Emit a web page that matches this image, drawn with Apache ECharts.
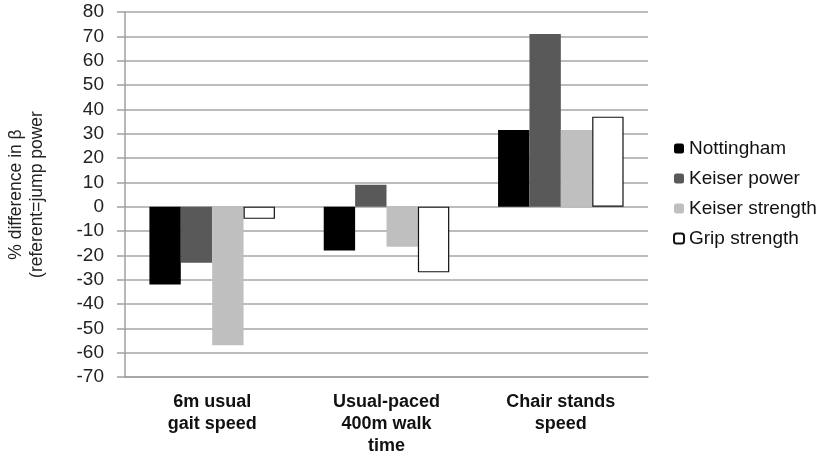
<!DOCTYPE html>
<html>
<head>
<meta charset="utf-8">
<script src="https://cdn.jsdelivr.net/npm/echarts@6/dist/echarts.min.js"></script>
<style>
  html, body { margin: 0; padding: 0; background: #fff; }
  #chart { width: 822px; height: 458px; }
</style>
</head>
<body>
<div id="chart"></div>
<script>
// categories and values
const categories = ["6m usual\ngait speed", "Usual-paced\n400m walk\ntime", "Chair stands\nspeed"];
const nottingham = [-32, -18, 31.5];
const keiserPower = [-23, 9, 71];
const keiserStrength = [-57, -16.5, 31.5];
const gripStrength = [-5, -27, 37];

const chart = echarts.init(document.getElementById("chart"));

// one bar series
function bar(name, data, color, border) {
  return {
    name: name,
    type: "bar",
    data: data,
    barGap: "0%",
    barCategoryGap: "28%",
    itemStyle: {
      color: color,
      borderColor: border || color,
      borderWidth: border ? 1.2 : 0,
    },
  };
}

chart.setOption({
  animation: false,
  textStyle: { fontFamily: "Liberation Sans, Arial, sans-serif" },
  grid: { left: 125, right: 174, top: 12, bottom: 81, outerBoundsMode: "none", containLabel: false },
  legend: {
    orient: "vertical",
    left: 668,
    top: 134,
    itemWidth: 10,
    itemHeight: 10,
    itemGap: 11,
    textStyle: { fontSize: 19, color: "#111" },
    data: ["Nottingham", "Keiser power", "Keiser strength", "Grip strength"],
  },
  xAxis: {
    type: "category",
    data: categories,
    axisLine: { onZero: false, lineStyle: { color: "#a0a0a0", width: 1.5 } },
    axisTick: { show: false },
    axisLabel: {
      interval: 0,
      margin: 14,
      fontSize: 18,
      fontWeight: "bold",
      lineHeight: 22,
      color: "#111",
    },
  },
  yAxis: {
    type: "value",
    min: -70,
    max: 80,
    interval: 10,
    name: "% difference in β\n(referent=jump power",
    nameLocation: "middle",
    nameGap: 77,
    nameTextStyle: { fontSize: 17.5, color: "#222", lineHeight: 21 },
    axisLine: { show: true, lineStyle: { color: "#a0a0a0", width: 1.5 } },
    axisTick: { show: true, length: 8, lineStyle: { color: "#a0a0a0", width: 1.5 } },
    axisLabel: { fontSize: 19, color: "#222", margin: 21 },
    splitLine: { lineStyle: { color: "#a6a6a6", width: 1.5 } },
  },
  series: [
    bar("Nottingham", nottingham, "#000000"),
    bar("Keiser power", keiserPower, "#595959"),
    bar("Keiser strength", keiserStrength, "#bfbfbf"),
    bar("Grip strength", gripStrength, "#ffffff", "#111111"),
  ],
});
</script>
</body>
</html>
